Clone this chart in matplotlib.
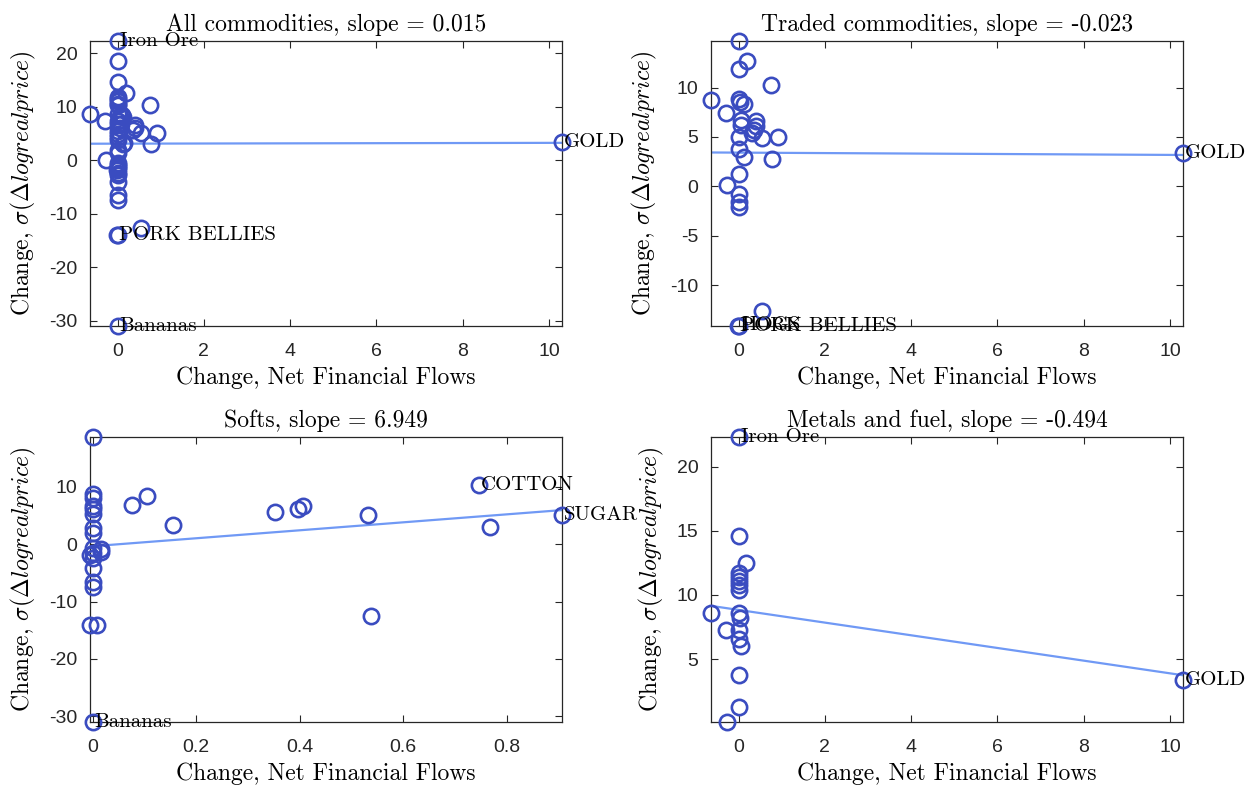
import numpy as np
import matplotlib
matplotlib.use("Agg")
import matplotlib.pyplot as plt
from matplotlib.ticker import FuncFormatter

plt.rcParams["axes.unicode_minus"] = False
plt.rcParams["mathtext.fontset"] = "cm"

# ---- data: change in net financial flows (x) vs change in price volatility (y)
all_x = [0.0, 0.0, 0.0, 0.19, 0.0, 0.0, 0.0, 0.0, 0.0, 0.747, -0.64, -0.3,
         0.0, 0.05, 0.13, 0.0, 0.0, 0.06, 0.077, 0.105, 0.155, 0.352, 0.397,
         0.406, 0.533, 0.907, 0.767, 0.0, 0.0, 0.0, 0.0, 0.12, 0.0, 0.02,
         -0.28, 0.0, 0.017, 0.017, 0.0, -0.008, 0.0, 0.0, 0.0, 0.0, 0.0,
         0.537, -0.008, 0.008, 0.0, 10.3]
all_y = [22.3, 18.6, 14.6, 12.6, 11.8, 11.4, 11.0, 10.6, 10.3, 10.3, 8.6, 7.4,
         8.6, 8.3, 8.1, 7.3, 6.7, 6.0, 6.8, 8.4, 3.3, 5.7, 6.1,
         6.65, 5.1, 5.1, 3.0, 5.5, 5.0, 4.3, 3.8, 3.0, 2.0, 1.3,
         0.1, -0.5, -0.9, -1.3, -1.6, -1.8, -2.4, -2.8, -4.1, -6.5, -7.5,
         -12.6, -14.0, -13.9, -31.0, 3.4]
all_names = {0: "Iron Ore", 49: "GOLD", 46: "PORK BELLIES", 48: "Bananas"}

traded_x = [0.0, 0.19, 0.0, 0.747, -0.64, 0.0, 0.04, 0.12, -0.3, 0.06, 0.06,
            0.40, 0.40, 0.35, 0.31, 0.533, 0.907, 0.0, 0.0, 0.12, 0.767, 0.02,
            -0.28, 0.0, 0.0, 0.0, 0.537, 0.008, -0.008, 10.3]
traded_y = [14.7, 12.7, 11.9, 10.3, 8.7, 8.8, 8.5, 8.3, 7.4, 6.7, 6.2,
            6.6, 6.1, 5.7, 5.4, 4.9, 5.0, 5.0, 3.8, 3.0, 2.8, 1.3,
            0.1, -0.8, -1.6, -2.1, -12.6, -14.05, -14.1, 3.4]
traded_names = {29: "GOLD", 27: "HOGS", 28: "PORK BELLIES"}

softs_x = [0.0, 0.0, 0.0, 0.0, 0.0, 0.0, 0.0, 0.0, 0.077, 0.105, 0.155,
           0.352, 0.397, 0.406, 0.533, 0.537, 0.747, 0.767, 0.907,
           -0.005, 0.0, 0.0, 0.0, 0.017, 0.017, 0.0, 0.0, 0.0,
           -0.005, 0.008, 0.0]
softs_y = [18.7, 8.7, 8.0, 6.7, 6.1, 5.2, 2.9, 2.0, 6.8, 8.4, 3.3,
           5.7, 6.1, 6.65, 5.1, -12.6, 10.3, 3.0, 5.1,
           -1.8, -0.7, -1.5, -2.4, -0.9, -1.3, -4.1, -6.5, -7.5,
           -14.0, -14.0, -31.0]
softs_names = {16: "COTTON", 18: "SUGAR", 30: "Bananas"}

metals_x = [0.0, 0.0, 0.18, 0.0, 0.0, 0.0, 0.0, 0.0, -0.64, 0.0, 0.03,
            -0.3, 0.0, 0.0, 0.05, 0.0, 0.01, -0.28, 10.3]
metals_y = [22.3, 14.6, 12.5, 11.7, 11.4, 11.1, 10.8, 10.4, 8.6, 8.6, 8.2,
            7.3, 7.3, 6.6, 6.0, 3.75, 1.3, 0.1, 3.4]
metals_names = {0: "Iron Ore", 18: "GOLD"}

titles = ["All commodities", "Traded commodities", "Softs", "Metals and fuel"]
slopes = [0.015, -0.023, 6.949, -0.494]
intercepts = [3.1, 3.42, -0.35, 8.83]

panels = [
    (all_x, all_y, all_names),
    (traded_x, traded_y, traded_names),
    (softs_x, softs_y, softs_names),
    (metals_x, metals_y, metals_names),
]
xticks = [np.arange(0, 11, 2), np.arange(0, 11, 2),
          [0, 0.2, 0.4, 0.6, 0.8], np.arange(0, 11, 2)]
yticks = [np.arange(-30, 21, 10), np.arange(-10, 11, 5),
          np.arange(-30, 11, 10), np.arange(5, 21, 5)]

W, H = 1247, 787
fig = plt.figure(figsize=(W / 100, H / 100), dpi=100)
boxes = [(90, 41), (711, 41), (90, 437), (711, 437)]
aw, ah = 472, 285

marker_col = "#3a4cc0"
line_col = "#7099f5"
axis_col = "#262626"
serif = "cmr10"

for i, ((x, y, names), (l, t)) in enumerate(zip(panels, boxes)):
    ax = fig.add_axes([l / W, 1 - (t + ah) / H, aw / W, ah / H])
    x = np.asarray(x)
    y = np.asarray(y)
    ax.plot(x, y, "o", ms=11, mfc="none", mec=marker_col, mew=1.9,
            zorder=3, clip_on=False)
    xs = np.array([x.min(), x.max()])
    ax.plot(xs, intercepts[i] + slopes[i] * xs, color=line_col, lw=1.6,
            zorder=2)
    for k, name in names.items():
        ax.annotate(name, (x[k], y[k]), xytext=(1.5, 0),
                    textcoords="offset points", ha="left", va="center",
                    fontsize=15, family=serif, color="black", zorder=4,
                    annotation_clip=False)
    ax.set_xlim(x.min(), x.max())
    ax.set_ylim(y.min(), y.max())
    ax.set_xticks(xticks[i])
    ax.set_yticks(yticks[i])
    ax.xaxis.set_major_formatter(FuncFormatter(lambda v, p: f"{v:g}"))
    ax.yaxis.set_major_formatter(FuncFormatter(lambda v, p: f"{v:g}"))
    ax.tick_params(direction="in", top=True, right=True, length=5,
                   width=0.8, colors=axis_col, labelsize=14)
    ax.tick_params(axis="x", pad=12)
    ax.tick_params(axis="y", pad=9)
    for lab in ax.get_xticklabels() + ax.get_yticklabels():
        lab.set_family("Liberation Sans")
    for sp in ax.spines.values():
        sp.set_color(axis_col)
        sp.set_linewidth(0.9)
    ax.set_title(f"{titles[i]}, slope = {slopes[i]:.3f}", family=serif,
                 fontsize=17, pad=7)
    ax.set_xlabel("Change, Net Financial Flows", family=serif, fontsize=17,
                  labelpad=5)
    ax.set_ylabel(r"Change, $\sigma(\Delta logrealprice)$", family=serif,
                  fontsize=17, labelpad=8)

fig.savefig("out.png", dpi=100, facecolor="white")
